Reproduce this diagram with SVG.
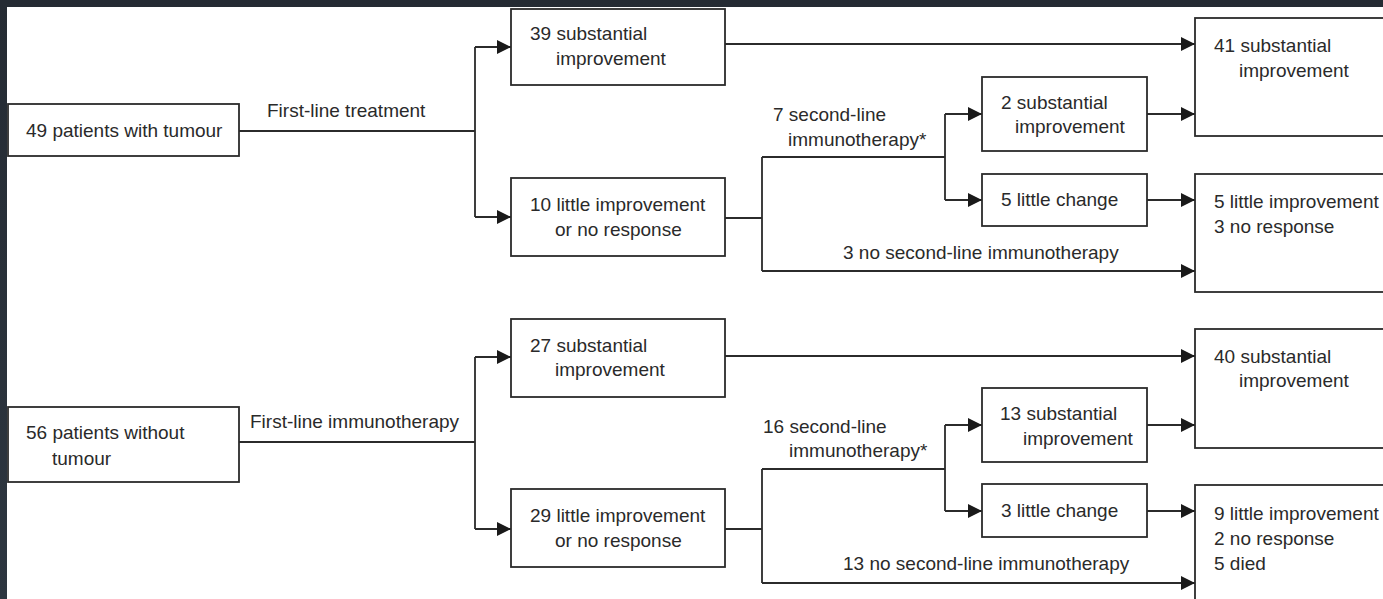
<svg xmlns="http://www.w3.org/2000/svg" width="1383" height="599" viewBox="0 0 1383 599">
<style>
.box{fill:#fff;stroke:#2b2b2b;stroke-width:1.8}
.ln{fill:none;stroke:#2b2b2b;stroke-width:1.8}
.ar{marker-end:url(#ah)}
text{font-family:"Liberation Sans",Arial,sans-serif;font-size:19px;fill:#2a2a2a}
</style>
<defs>
<marker id="ah" viewBox="0 0 14 14" refX="14" refY="7" markerWidth="14" markerHeight="14" markerUnits="userSpaceOnUse" orient="auto">
<path d="M0,0 L14,7 L0,14 z" fill="#1a1a1a"/>
</marker>
<linearGradient id="bg" x1="0" y1="0" x2="0" y2="1">
<stop offset="0" stop-color="#252b33"/>
<stop offset="1" stop-color="#2d3640"/>
</linearGradient>
</defs>
<rect x="0" y="0" width="1383" height="599" fill="url(#bg)"/>
<rect x="7" y="7" width="1376" height="592" fill="#fff"/>

<g id="connectors">
<path class="ln" d="M239,131 H475 M475,47 V217 M762,157 V271 M762,157 H945 M945,114 V200 M725,218 H762"/>
<path class="ln ar" d="M475,47 H511"/>
<path class="ln ar" d="M475,217 H511"/>
<path class="ln ar" d="M725,44 H1195"/>
<path class="ln ar" d="M945,114 H982"/>
<path class="ln ar" d="M945,200 H982"/>
<path class="ln ar" d="M1147,114 H1195"/>
<path class="ln ar" d="M1147,200 H1195"/>
<path class="ln ar" d="M762,271 H1195"/>
<path class="ln" d="M239,442 H475 M475,357 V529 M762,469 V583 M762,469 H945 M945,425 V511 M725,529 H762"/>
<path class="ln ar" d="M475,357 H511"/>
<path class="ln ar" d="M475,529 H511"/>
<path class="ln ar" d="M725,356 H1195"/>
<path class="ln ar" d="M945,425 H982"/>
<path class="ln ar" d="M945,511 H982"/>
<path class="ln ar" d="M1147,425 H1195"/>
<path class="ln ar" d="M1147,511 H1195"/>
<path class="ln ar" d="M762,583 H1195"/>
<text x="267" y="117">First-line treatment</text>
<text x="773" y="121">7 second-line</text>
<text x="788" y="146">immunotherapy*</text>
<text x="843" y="259">3 no second-line immunotherapy</text>
<text x="250" y="428">First-line immunotherapy</text>
<text x="763" y="433">16 second-line</text>
<text x="789" y="457">immunotherapy*</text>
<text x="843" y="570">13 no second-line immunotherapy</text>
</g>

<g id="n1"><rect class="box" x="8" y="104" width="231" height="52"/><text x="26" y="137">49 patients with tumour</text></g>
<g id="n2"><rect class="box" x="511" y="9" width="214" height="76"/><text x="530" y="40">39 substantial</text><text x="556" y="65">improvement</text></g>
<g id="n3"><rect class="box" x="511" y="178" width="214" height="78"/><text x="530" y="211">10 little improvement</text><text x="555" y="236">or no response</text></g>
<g id="n4"><rect class="box" x="982" y="77" width="165" height="74"/><text x="1001" y="109">2 substantial</text><text x="1015" y="133">improvement</text></g>
<g id="n5"><rect class="box" x="982" y="174" width="165" height="52"/><text x="1001" y="206">5 little change</text></g>
<g id="n6"><rect class="box" x="1195" y="18" width="220" height="118"/><text x="1214" y="52">41 substantial</text><text x="1239" y="77">improvement</text></g>
<g id="n7"><rect class="box" x="1195" y="174" width="220" height="118"/><text x="1214" y="208">5 little improvement</text><text x="1214" y="233">3 no response</text></g>

<g id="n8"><rect class="box" x="8" y="407" width="231" height="75"/><text x="26" y="439">56 patients without</text><text x="52" y="465">tumour</text></g>
<g id="n9"><rect class="box" x="511" y="319" width="214" height="78"/><text x="530" y="352">27 substantial</text><text x="555" y="376">improvement</text></g>
<g id="n10"><rect class="box" x="511" y="489" width="214" height="78"/><text x="530" y="522">29 little improvement</text><text x="555" y="547">or no response</text></g>
<g id="n11"><rect class="box" x="982" y="388" width="165" height="74"/><text x="1000" y="420">13 substantial</text><text x="1023" y="445">improvement</text></g>
<g id="n12"><rect class="box" x="982" y="484" width="165" height="53"/><text x="1001" y="517">3 little change</text></g>
<g id="n13"><rect class="box" x="1195" y="329" width="220" height="119"/><text x="1214" y="363">40 substantial</text><text x="1239" y="387">improvement</text></g>
<g id="n14"><rect class="box" x="1195" y="485" width="220" height="130"/><text x="1214" y="520">9 little improvement</text><text x="1214" y="545">2 no response</text><text x="1214" y="570">5 died</text></g>
</svg>
